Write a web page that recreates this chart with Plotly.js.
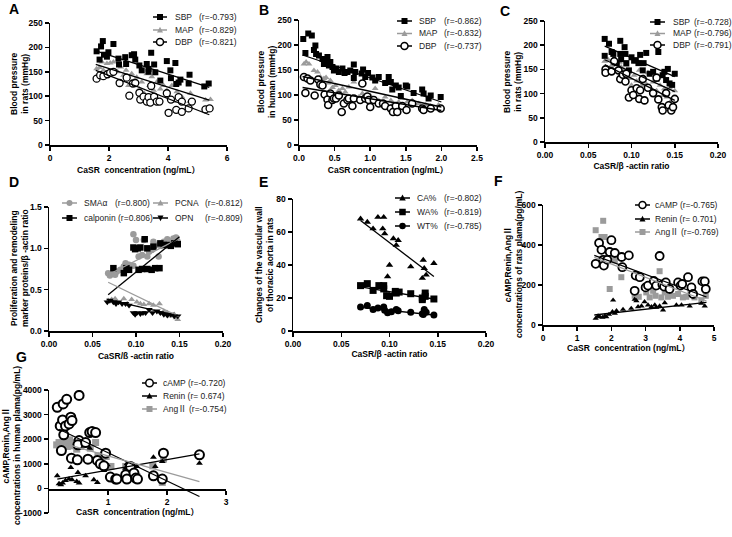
<!DOCTYPE html>
<html><head><meta charset="utf-8">
<script src="https://cdn.plot.ly/plotly-3.0.1.min.js"></script>
<style>html,body{margin:0;padding:0;background:#fff;}#chart{width:732px;height:537px;}</style>
</head><body><div id="chart"></div>
<script>
// ---------------- DATA ----------------
// Panel A: blood pressure in rats vs CaSR concentration
const aSbpX = [1.58,1.68,1.73,1.79,1.83,1.93,1.98,2.15,2.32,2.34,2.55,2.58,2.77,2.85,2.89,3.03,3.11,3.28,3.34,3.34,3.43,3.53,3.57,3.74,3.96,4.08,4.10,4.25,4.28,4.36,4.42,4.70,4.73,5.23,5.38];
const aSbpY = [192,175,202,213,185,181,190,207,177,165,180,166,184,186,175,163,153,166,156,150,189,165,149,132,172,153,137,168,125,128,134,126,144,120,126];
const aMapX = [1.58,1.68,1.76,1.81,1.93,2.04,2.15,2.29,2.40,2.49,2.58,2.66,2.77,2.85,2.94,3.03,3.11,3.19,3.28,3.37,3.45,3.51,3.62,3.74,3.85,3.96,4.05,4.13,4.19,4.30,4.47,4.73,4.76,5.27,5.44];
const aMapY = [156,159,170,153,167,168,170,150,160,143,153,122,146,129,139,115,129,106,146,122,140,112,129,115,122,112,99,122,89,109,99,89,106,92,93];
const aDbpX = [1.58,1.70,1.81,1.95,2.04,2.15,2.36,2.60,2.69,2.81,2.89,3.03,3.06,3.17,3.28,3.34,3.40,3.43,3.53,3.62,3.71,3.96,4.02,4.10,4.28,4.36,4.47,4.47,4.70,4.81,5.27,5.41];
const aDbpY = [136,143,141,145,148,150,127,138,101,126,127,107,93,99,89,98,87,121,99,89,89,106,66,93,72,98,68,89,75,89,73,75];
const aFitX = [1.55,5.4];
const aSbpFitY = [193,118];
const aMapFitY = [165,92];
const aDbpFitY = [153,62];
const aR = ['(r=-0.793)','(r=-0.829)','(r=-0.821)'];

// Panel B: blood pressure in human vs CaSR concentration
const bSbpX = [0.06,0.09,0.13,0.18,0.21,0.23,0.24,0.28,0.33,0.35,0.37,0.40,0.42,0.44,0.47,0.49,0.52,0.56,0.61,0.64,0.68,0.72,0.77,0.79,0.77,0.88,0.90,0.93,0.97,1.03,1.07,1.12,1.21,1.26,1.29,1.31,1.36,1.40,1.43,1.50,1.52,1.61,1.73,1.75,1.85,1.82,1.99];
const bSbpY = [212,184,223,219,190,199,182,179,172,162,168,176,159,166,156,149,153,146,153,144,146,149,161,146,134,143,151,136,144,135,129,136,124,136,126,111,119,115,98,119,117,104,111,103,99,93,96];
const bMapX = [0.07,0.10,0.14,0.21,0.26,0.28,0.30,0.35,0.38,0.41,0.44,0.47,0.51,0.56,0.61,0.65,0.70,0.75,0.77,0.84,0.89,0.96,1.00,1.07,1.12,1.21,1.29,1.33,1.40,1.45,1.52,1.59,1.68,1.78,1.85,1.96];
const bMapY = [162,166,162,149,146,126,136,133,135,124,129,115,119,109,113,106,116,96,126,96,103,93,99,113,89,96,89,83,86,93,86,89,83,80,78,80];
const bDbpX = [0.07,0.09,0.12,0.16,0.22,0.27,0.30,0.33,0.36,0.40,0.41,0.44,0.47,0.49,0.52,0.56,0.60,0.63,0.68,0.70,0.75,0.77,0.86,0.89,0.93,0.96,0.98,1.00,1.05,1.12,1.18,1.21,1.29,1.32,1.36,1.38,1.45,1.51,1.59,1.73,1.75,1.85,1.99];
const bDbpY = [136,104,133,129,99,131,121,119,101,91,80,103,90,93,93,99,66,83,90,93,78,93,90,123,93,97,90,76,90,83,83,78,73,66,78,66,78,70,83,73,70,73,73];
const bFitX = [0.05,2.0];
const bSbpFitY = [180,86];
const bMapFitY = [137,76];
const bDbpFitY = [115,69];
const bR = ['(r=-0.862)','(r=-0.832)','(r=-0.737)'];

// Panel C: blood pressure in rats vs CaSR/beta-actin ratio
const cSbpX = [0.069,0.069,0.074,0.077,0.079,0.083,0.087,0.087,0.088,0.092,0.093,0.094,0.097,0.100,0.103,0.105,0.108,0.110,0.113,0.114,0.117,0.121,0.125,0.129,0.131,0.136,0.138,0.140,0.142,0.144,0.147,0.150];
const cSbpY = [213,178,203,186,182,163,209,182,171,196,182,163,148,175,168,169,163,180,148,163,184,141,145,131,186,138,145,128,151,121,118,141];
const cMapX = [0.069,0.073,0.077,0.081,0.086,0.088,0.092,0.094,0.098,0.100,0.103,0.106,0.109,0.112,0.114,0.117,0.119,0.122,0.125,0.129,0.133,0.136,0.138,0.141,0.144,0.146,0.150];
const cMapY = [167,170,158,145,165,155,148,158,131,117,138,126,148,117,134,120,143,112,124,106,117,96,110,93,112,86,106];
const cDbpX = [0.070,0.070,0.077,0.080,0.085,0.087,0.090,0.093,0.094,0.097,0.100,0.102,0.106,0.109,0.110,0.113,0.115,0.119,0.125,0.129,0.131,0.135,0.136,0.140,0.143,0.146,0.148,0.150];
const cDbpY = [150,143,146,167,148,130,139,125,141,92,107,97,111,89,107,130,86,112,101,133,88,72,65,101,76,65,72,89];
const cFitX = [0.069,0.150];
const cSbpFitY = [198,135];
const cMapFitY = [170,104];
const cDbpFitY = [160,86];
const cR = ['(r=-0.728)','(r=-0.796)','(r=-0.791)'];

// Panel D: proliferation / remodeling marker proteins
const dSmaX = [0.068,0.070,0.074,0.076,0.078,0.082,0.086,0.088,0.092,0.097,0.097,0.100,0.103,0.107,0.109,0.113,0.115,0.118,0.120,0.124,0.126,0.128,0.132,0.136,0.140,0.143,0.146,0.148];
const dSmaY = [0.70,0.67,0.70,0.68,0.72,0.74,0.78,0.82,0.80,0.79,1.17,1.10,0.90,0.92,1.10,0.90,0.96,0.98,1.08,1.04,0.90,1.03,1.08,1.11,1.08,1.12,1.13,1.08];
const dCalX = [0.074,0.086,0.089,0.092,0.097,0.099,0.102,0.105,0.103,0.107,0.110,0.113,0.118,0.122,0.127,0.120,0.128,0.132,0.136,0.140,0.144,0.148,0.113];
const dCalY = [0.76,0.70,0.76,0.74,1.01,0.99,1.00,1.01,0.74,0.75,1.11,0.75,0.74,0.76,0.76,1.02,1.06,1.04,1.04,1.03,1.06,1.05,1.00];
const dPcnaX = [0.068,0.072,0.076,0.078,0.086,0.090,0.095,0.101,0.105,0.109,0.115,0.120,0.127,0.132,0.136,0.140,0.144,0.146,0.148];
const dPcnaY = [0.37,0.38,0.39,0.35,0.39,0.33,0.38,0.35,0.33,0.32,0.33,0.31,0.33,0.24,0.22,0.18,0.20,0.16,0.14];
const dOpnX = [0.067,0.070,0.074,0.077,0.080,0.084,0.088,0.092,0.097,0.099,0.101,0.105,0.108,0.111,0.115,0.119,0.124,0.128,0.132,0.136,0.140,0.144,0.148];
const dOpnY = [0.35,0.37,0.35,0.33,0.35,0.33,0.33,0.31,0.22,0.20,0.22,0.21,0.22,0.22,0.26,0.22,0.24,0.22,0.20,0.19,0.20,0.18,0.18];
const dFitX = [0.068,0.150];
const dSmaFitY = [0.68,1.12];
const dCalFitY = [0.44,1.14];
const dPcnaFitY = [0.59,0.17];
const dOpnFitY = [0.38,0.18];

// Panel E: vascular wall of thoracic aorta
const eCaX = [0.070,0.077,0.083,0.088,0.094,0.093,0.095,0.104,0.109,0.107,0.100,0.098,0.122,0.135,0.136,0.134,0.138,0.146];
const eCaY = [68,66,62,69,69,62,59,56,55,52,40,33,39,43,38,32,34,41];
const eWaX = [0.070,0.077,0.083,0.089,0.094,0.094,0.097,0.100,0.106,0.107,0.110,0.122,0.134,0.134,0.137,0.137,0.146];
const eWaY = [27.5,28.7,24.6,27.5,27.5,25.5,21.4,21.0,24.0,23.0,23.6,22.6,20.0,19.0,23.0,21.0,19.4];
const eWtX = [0.070,0.077,0.083,0.088,0.094,0.095,0.098,0.102,0.107,0.109,0.122,0.134,0.136,0.135,0.138,0.146];
const eWtY = [14.5,15.5,13.0,14.0,14.5,12.5,11.0,11.7,13.0,12.3,11.3,10.5,13.0,10.0,11.3,9.7];
const eFitX = [0.070,0.146];
const eCaFitY = [67,33];
const eWaFitY = [26.7,19.4];
const eWtFitY = [14.3,9.7];

// Panel F: rat plasma cAMP, Renin, Ang II
const fCampX = [1.54,1.64,1.71,1.76,1.78,1.88,1.95,2.00,2.10,2.30,2.32,2.51,2.68,2.71,2.83,3.00,3.07,3.24,3.31,3.41,3.49,3.54,3.59,3.70,3.95,4.02,4.07,4.24,4.34,4.39,4.66,4.73,4.76];
const fCampY = [306,410,376,326,297,326,365,424,360,340,289,348,171,247,239,188,197,220,197,345,202,192,213,180,213,197,205,239,188,155,218,218,180];
const fReninX = [1.54,1.61,1.66,1.74,1.81,1.85,1.93,2.03,2.05,2.10,2.15,2.34,2.58,2.68,2.73,2.78,2.88,2.97,3.07,3.17,3.27,3.31,3.41,3.51,3.56,3.90,4.05,4.29,4.63,4.73];
const fReninY = [33,45,41,38,45,41,53,66,124,58,71,78,83,128,121,91,95,116,100,91,100,88,95,75,111,100,100,95,108,95];
const fAngX = [1.54,1.76,1.71,1.80,1.95,2.05,2.29,2.10,2.68,2.80,3.02,3.12,3.22,3.29,3.41,3.46,3.56,3.65,3.80,3.95,4.09,4.19,4.31,4.43,4.63,4.76];
const fAngY = [474,521,440,440,180,365,239,323,146,141,163,138,171,146,269,138,163,141,146,155,138,141,155,138,124,146];
const fFitX = [1.5,4.78];
const fCampFitY = [348,140];
const fReninFitY = [50,113];
const fAngFitY = [338,120];

// Panel G: human plasma cAMP, Renin, Ang II
const gCampX = [0.14,0.19,0.23,0.24,0.30,0.21,0.25,0.28,0.34,0.37,0.39,0.38,0.48,0.51,0.51,0.49,0.62,0.66,0.69,0.73,0.79,0.82,0.87,0.96,0.93,1.04,1.13,1.15,1.30,1.32,1.38,1.44,1.47,1.50,1.77,1.92,1.94,2.55];
const gCampY = [3297,2540,2784,3432,3622,1540,2176,2540,2622,2892,2757,1230,1162,1946,3780,1770,1865,1190,2270,2311,2270,1135,1000,1432,919,459,378,378,554,378,892,622,419,378,513,378,1432,1365];
const gReninX = [0.14,0.17,0.20,0.23,0.28,0.34,0.37,0.39,0.47,0.49,0.51,0.62,0.69,0.76,0.82,0.93,0.99,1.30,1.32,1.44,1.49,1.77,1.80,1.92,2.55];
const gReninY = [513,189,149,216,324,378,851,351,284,649,216,513,1635,351,243,730,959,824,1000,892,892,1270,892,1095,1027];
const gAngX = [0.13,0.17,0.20,0.24,0.28,0.31,0.35,0.39,0.42,0.47,0.49,0.54,0.64,0.70,0.79,0.83,0.90,0.97,1.05,1.30,1.44,1.49,1.76,1.92,1.94];
const gAngY = [1770,1865,1838,1811,1905,1703,1973,1730,1865,1595,1865,1703,1811,1635,1865,1324,1270,1297,892,892,595,486,919,243,1189];
const gCampFitX = [0.17,2.55];
const gCampFitY = [2405,-330];
const gOtherFitX = [0.14,2.55];
const gReninFitY = [380,1400];
const gAngFitY = [1905,280];

// ---------------- STYLE / LAYOUT ----------------
const W = 732, H = 537;
const FONT = '"Liberation Sans", Arial, "Noto Sans CJK SC", sans-serif';
const GRAY = '#9b9b9b';
const BLACK = '#000';
const px2x = p => p / W;
const px2y = p => 1 - p / H;

const layout = {
  width: W, height: H, margin: {l:0, r:0, t:0, b:0},
  paper_bgcolor: '#fff', plot_bgcolor: 'rgba(0,0,0,0)',
  showlegend: false, shapes: [], annotations: [],
  font: {family: FONT, color: '#000'}
};

function axis(pxA, pxB, range, dtick, fmt, anchor, title, standoff, extra) {
  const isX = extra && extra.isX;
  const dom = isX ? [px2x(pxA), px2x(pxB)] : [px2y(pxB), px2y(pxA)];
  const ax = {
    domain: dom, range: range, dtick: dtick, tick0: 0, tickformat: fmt, anchor: anchor,
    showgrid: false, zeroline: false, showline: true, linecolor: BLACK, linewidth: 1.5,
    ticks: 'outside', ticklen: 4, tickwidth: 1.5, tickcolor: BLACK, fixedrange: true,
    tickfont: {family: FONT, size: 8.5, color: BLACK, weight: 'bold'},
    title: {text: title, standoff: standoff, font: {family: FONT, size: 8.5, color: BLACK, weight: 'bold'}}
  };
  if (extra) { for (const k in extra) if (k !== 'isX') ax[k] = extra[k]; }
  return ax;
}
// rotated y-axis titles placed as annotations (centre x, centre y in px)
function yTitle(text, cx, cy) {
  layout.annotations.push({xref: 'paper', yref: 'paper', x: px2x(cx), y: px2y(cy), xanchor: 'center', yanchor: 'middle',
    textangle: -90, text: text, showarrow: false,
    font: {family: FONT, size: 8.5, color: BLACK, weight: 'bold'}});
}

const CASR = 'CaSR  concentration (ng/mL）';
const RATIO = 'CaSR/β -actin ratio';
layout.xaxis  = axis(50, 227, [0,6], 2, '', 'y', CASR, 5, {isX:true});
layout.yaxis  = axis(23, 145, [0,250], 50, '', 'x', '', 0);
layout.xaxis2 = axis(299, 477, [0,2.5], 0.5, '.1f', 'y2', 'CaSR concentration (ng/mL）', 5, {isX:true});
layout.yaxis2 = axis(20, 145, [0,250], 50, '', 'x2', '', 0);
layout.xaxis3 = axis(545, 718, [0,0.2], 0.05, '.2f', 'y3', RATIO, 4, {isX:true});
layout.yaxis3 = axis(21, 142, [0,250], 50, '', 'x3', '', 0);
layout.xaxis4 = axis(49, 223, [0,0.2], 0.05, '.2f', 'y4', 'CaSR/ß -actin ratio', 5, {isX:true});
layout.yaxis4 = axis(207, 331, [0,1.5], 0.5, '.1f', 'x4', '', 0);
layout.xaxis5 = axis(293, 486, [0,0.2], 0.05, '.2f', 'y5', RATIO, 2, {isX:true});
layout.yaxis5 = axis(199, 331, [0,80], 20, '', 'x5', '', 0);
layout.xaxis6 = axis(543, 714, [0,5], 1, '', 'y6', CASR, 3, {isX:true});
layout.yaxis6 = axis(205, 325, [0,600], 200, '', 'x6', '', 0);
layout.xaxis7 = axis(49, 226, [0,3], 1, '', 'free', CASR, 3, {isX:true, position: px2y(489), tickvals:[1,2,3]});
layout.yaxis7 = axis(390, 513, [-1000,4000], 1000, '', 'x7', '', 0);

yTitle('Blood pressure<br>in rats (mmHg)', 19, 84);
yTitle('Blood pressure<br>in human (mmHg)', 267, 82);
yTitle('Blood pressure<br>in rats (mmHg)', 513, 82);
yTitle('Proliferation and remodeling<br>marker proteins/β -actin ratio', 20, 268);
yTitle('Changes of the vascular wall<br>of thoracic aorta in rats', 264, 265);
yTitle('cAMP,Renin,AngⅡ<br>concentrations of rats plama(pg/mL)', 514, 264);
yTitle('cAMP,Renin,AngⅡ<br>concentrations in human plama(pg/mL)', 11, 446);

// ---------------- TRACES ----------------
const traces = [];
function pts(i, x, y, symbol, size, color, open, lw) {
  const s = i === 1 ? '' : String(i);
  traces.push({
    type: 'scatter', mode: 'markers', x: x, y: y, xaxis: 'x' + s, yaxis: 'y' + s, hoverinfo: 'skip',
    marker: {symbol: symbol, size: size, color: open ? '#fff' : color,
             line: {color: color, width: open ? (lw || 1.3) : 0}}
  });
}
function fit(i, x, y, color) {
  const s = i === 1 ? '' : String(i);
  traces.push({type: 'scatter', mode: 'lines', x: x, y: y, xaxis: 'x' + s, yaxis: 'y' + s,
    hoverinfo: 'skip', line: {color: color, width: 1.3}});
}

// A
pts(1, aMapX, aMapY, 'triangle-up', 6, GRAY);
pts(1, aSbpX, aSbpY, 'square', 6, BLACK);
pts(1, aDbpX, aDbpY, 'circle', 7, BLACK, true, 1.3);
fit(1, aFitX, aSbpFitY, BLACK); fit(1, aFitX, aMapFitY, BLACK); fit(1, aFitX, aDbpFitY, BLACK);
// B
pts(2, bMapX, bMapY, 'triangle-up', 6, GRAY);
pts(2, bSbpX, bSbpY, 'square', 6, BLACK);
pts(2, bDbpX, bDbpY, 'circle', 7, BLACK, true, 1.6);
fit(2, bFitX, bSbpFitY, BLACK); fit(2, bFitX, bMapFitY, BLACK); fit(2, bFitX, bDbpFitY, BLACK);
// C
pts(3, cMapX, cMapY, 'triangle-up', 6, GRAY);
pts(3, cSbpX, cSbpY, 'square', 6, BLACK);
pts(3, cDbpX, cDbpY, 'circle', 7, BLACK, true, 1.6);
fit(3, cFitX, cSbpFitY, BLACK); fit(3, cFitX, cMapFitY, BLACK); fit(3, cFitX, cDbpFitY, BLACK);
// D
pts(4, dSmaX, dSmaY, 'circle', 6.5, GRAY);
pts(4, dCalX, dCalY, 'square', 6.5, BLACK);
pts(4, dPcnaX, dPcnaY, 'triangle-up', 6, GRAY);
pts(4, dOpnX, dOpnY, 'triangle-down', 6.5, BLACK);
fit(4, dFitX, dSmaFitY, GRAY); fit(4, dFitX, dCalFitY, BLACK);
fit(4, dFitX, dPcnaFitY, GRAY); fit(4, dFitX, dOpnFitY, BLACK);
// E
pts(5, eCaX, eCaY, 'triangle-up', 6.5, BLACK);
pts(5, eWaX, eWaY, 'square', 7, BLACK);
pts(5, eWtX, eWtY, 'circle', 7, BLACK);
fit(5, eFitX, eCaFitY, BLACK); fit(5, eFitX, eWaFitY, BLACK); fit(5, eFitX, eWtFitY, BLACK);
// F
pts(6, fAngX, fAngY, 'square', 6, GRAY);
pts(6, fReninX, fReninY, 'triangle-up', 5.5, BLACK);
pts(6, fCampX, fCampY, 'circle', 8, BLACK, true, 1.8);
fit(6, fFitX, fCampFitY, BLACK); fit(6, fFitX, fReninFitY, BLACK); fit(6, fFitX, fAngFitY, GRAY);
// G
pts(7, gAngX, gAngY, 'square', 7, GRAY);
pts(7, gReninX, gReninY, 'triangle-up', 6, BLACK);
pts(7, gCampX, gCampY, 'circle', 9, BLACK, true, 2);
fit(7, gCampFitX, gCampFitY, BLACK); fit(7, gOtherFitX, gReninFitY, BLACK); fit(7, gOtherFitX, gAngFitY, GRAY);

// ---------------- LEGENDS (drawn as shapes + annotations) ----------------
function legMarker(sym, cx, cy, color, sz) {
  const base = {xref: 'paper', yref: 'paper', xsizemode: 'pixel', ysizemode: 'pixel',
                xanchor: px2x(cx), yanchor: px2y(cy), layer: 'above'};
  const h = sz / 2;
  if (sym === 'square') return Object.assign(base, {type: 'rect', x0: -h, x1: h, y0: -h, y1: h, fillcolor: color, line: {width: 0}});
  if (sym === 'circle') return Object.assign(base, {type: 'circle', x0: -h, x1: h, y0: -h, y1: h, fillcolor: color, line: {width: 0}});
  if (sym === 'open') return Object.assign(base, {type: 'circle', x0: -h, x1: h, y0: -h, y1: h, fillcolor: '#fff', line: {color: color, width: 1.5}});
  if (sym === 'up') return Object.assign(base, {type: 'path', path: `M${-h},${-h*0.8} L${h},${-h*0.8} L0,${h*1.1} Z`, fillcolor: color, line: {width: 0}});
  if (sym === 'down') return Object.assign(base, {type: 'path', path: `M${-h},${h*0.8} L${h},${h*0.8} L0,${-h*1.1} Z`, fillcolor: color, line: {width: 0}});
}
function legText(x, y, text) {
  layout.annotations.push({xref: 'paper', yref: 'paper', x: px2x(x), y: px2y(y), xanchor: 'left', yanchor: 'middle',
    text: text, showarrow: false, font: {family: FONT, size: 8.5, color: '#222'}});
}
function legItem(lx0, lx1, cy, sym, color, sz, texts) {
  layout.shapes.push({type: 'line', xref: 'paper', yref: 'paper', x0: px2x(lx0), x1: px2x(lx1), y0: px2y(cy), y1: px2y(cy), line: {color: color, width: 1.5}, layer: 'above'});
  layout.shapes.push(legMarker(sym, (lx0 + lx1) / 2, cy, color, sz));
  texts.forEach(t => legText(t[0], cy, t[1]));
}
const bpNames = ['SBP', 'MAP', 'DBP'];
const bpSyms = [['square', BLACK, 6], ['up', GRAY, 6], ['open', BLACK, 7]];
[[153, 167, [17, 30, 42], 173, 197, aR], [397, 412, [21, 33.5, 46], 417, 442, bR], [650, 665, [22, 33.5, 45], 671, 692, cR]]
  .forEach(([l0, l1, ys, tx, rx, rr]) => {
    bpNames.forEach((n, k) => legItem(l0, l1, ys[k], bpSyms[k][0], bpSyms[k][1], bpSyms[k][2], [[tx, n], [rx, rr[k]]]));
  });
// D
legItem(62, 77, 203, 'circle', GRAY, 6, [[82, 'SMAα'], [113, '(r=0.800)']]);
legItem(62, 77, 218, 'square', BLACK, 6, [[82, 'calponin (r=0.806)']]);
legItem(153, 168, 203, 'up', GRAY, 6, [[173, 'PCNA'], [203, '(r=-0.812)']]);
legItem(153, 168, 218, 'down', BLACK, 6, [[173, 'OPN'], [203, '(r=-0.809)']]);
// E
legItem(395, 410, 198, 'up', BLACK, 6.5, [[415, 'CA%'], [442, '(r=-0.802)']]);
legItem(395, 410, 212, 'square', BLACK, 6.5, [[415, 'WA%'], [442, '(r=-0.819)']]);
legItem(395, 410, 226, 'circle', BLACK, 6.5, [[415, 'WT%'], [442, '(r=-0.785)']]);
// F
legItem(635, 650, 205, 'open', BLACK, 7, [[653, 'cAMP (r=-0.765)']]);
legItem(635, 650, 219, 'up', BLACK, 6, [[653, 'Renin (r= 0.701)']]);
legItem(635, 650, 232, 'square', GRAY, 6, [[653, 'AngⅡ (r=-0.769)']]);
// G
legItem(142, 157, 383, 'open', BLACK, 7.5, [[161, 'cAMP (r=-0.720)']]);
legItem(142, 157, 396, 'up', BLACK, 6, [[161, 'Renin (r= 0.674)']]);
legItem(142, 157, 409, 'square', GRAY, 6, [[161, 'AngⅡ (r=-0.754)']]);

// Panel letters
[['A', 14, 9], ['B', 264, 10], ['C', 505, 11], ['D', 14, 182], ['E', 263, 182], ['F', 498, 181], ['G', 21, 357]]
  .forEach(([t, x, y]) => layout.annotations.push({xref: 'paper', yref: 'paper', x: px2x(x), y: px2y(y),
    xanchor: 'center', yanchor: 'middle', text: t, showarrow: false,
    font: {family: FONT, size: 14, color: '#000', weight: 'bold'}}));

Plotly.newPlot('chart', traces, layout, {staticPlot: true, displayModeBar: false});
</script></body></html>
